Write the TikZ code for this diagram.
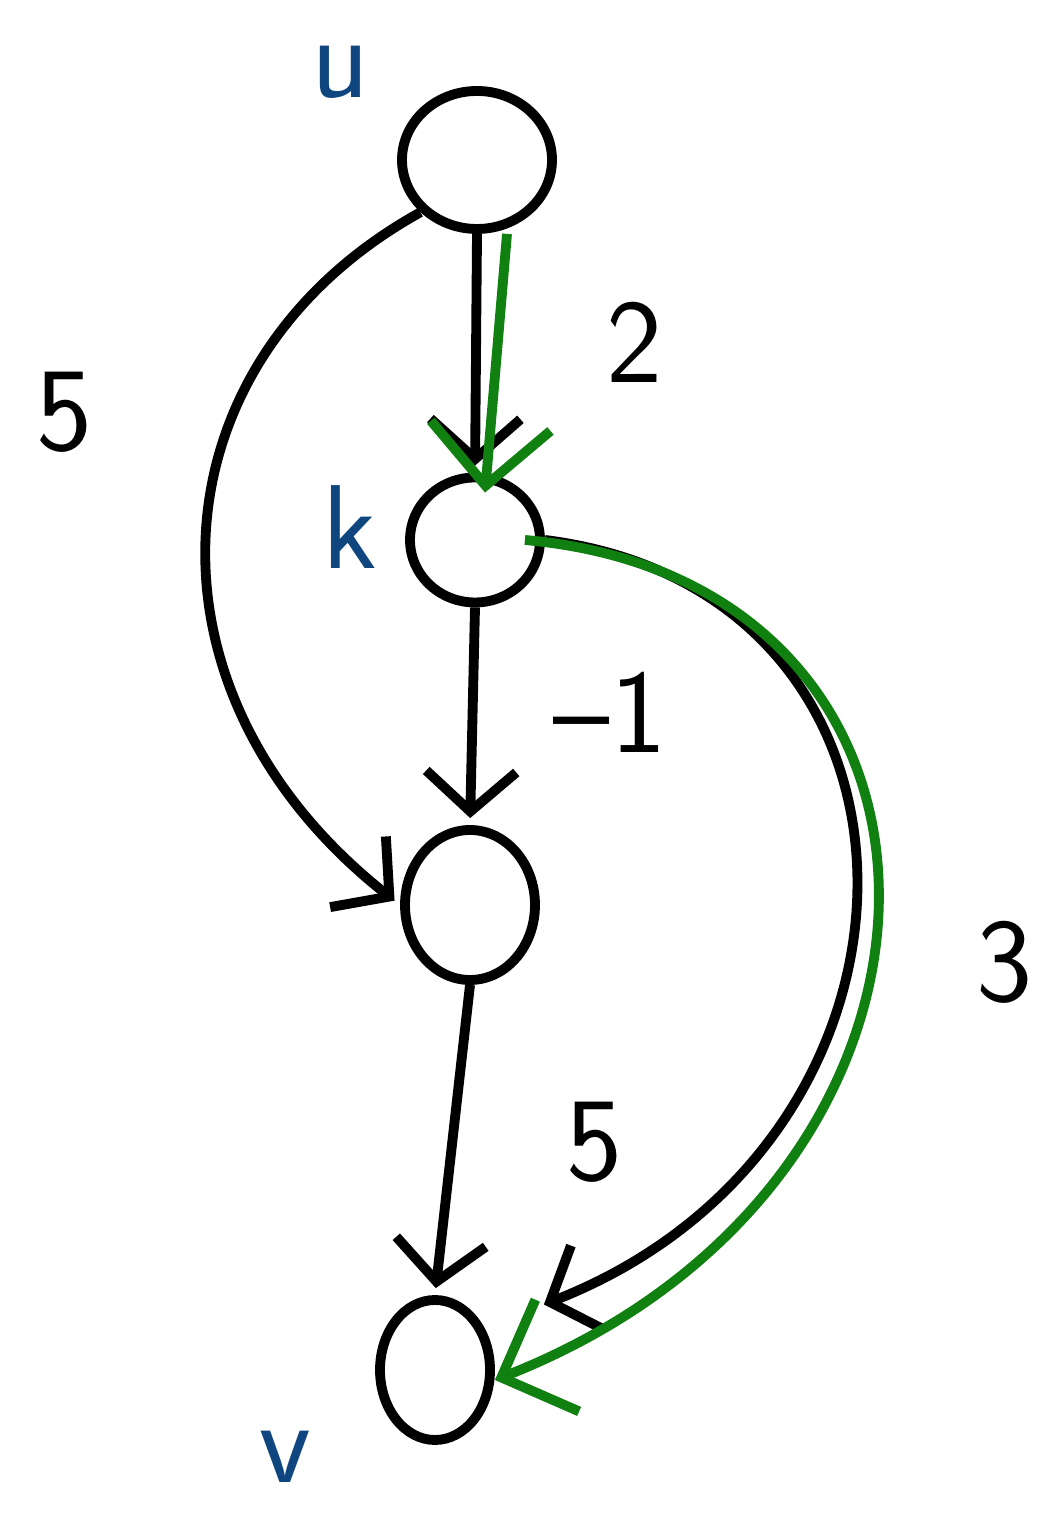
\documentclass[tikz,border=0pt]{standalone}
\usepackage{tikz}
\usetikzlibrary{arrows.meta, shapes.geometric, positioning}
\definecolor{inkblue}{RGB}{16,70,128}
\definecolor{inkgreen}{RGB}{16,128,16}
\tikzset{
  vertex/.style={
    ellipse, draw=black, line width=2.8pt,
    minimum width=1.35cm, minimum height=1.3cm, inner sep=0pt
  },
  link/.style={-{Straight Barb[length=4mm, width=9mm, line width=2.8pt]},
    line width=2.8pt, draw=black, shorten >=2pt},
  greenlink/.style={-{Straight Barb[length=6mm, width=12mm, line width=2.8pt]},
    line width=2.8pt, draw=inkgreen},
  wlabel/.style={font=\fontsize{34}{40}\selectfont\sffamily},
  vname/.style={font=\fontsize{34}{40}\selectfont\sffamily, text=inkblue}
}

\begin{document}
\begin{tikzpicture}
  \useasboundingbox (0,0) rectangle (10.63,15.22);
  % vertices
  \node[vertex, minimum width=1.5cm, minimum height=1.38cm] (u) at (4.77,13.62) {};
  \node[vertex, minimum width=1.3cm, minimum height=1.25cm] (k) at (4.75,9.82) {};
  \node[vertex, minimum width=1.3cm, minimum height=1.5cm] (w) at (4.70,6.17) {};
  \node[vertex, minimum width=1.1cm, minimum height=1.4cm] (v) at (4.35,1.52) {};
  \node[vname] (lu) at (3.4,14.5) {u};
  \node[vname] (lk) at (3.5,9.95) {k};
  \node[vname] (lv) at (2.85,0.65) {v};
  % edges
  \draw[link] (u.south) -- (k.north);
  \draw[link] (k.south) -- (w.north);
  \draw[link] (w.south) -- (v.north);
  \draw[link] (u.south west) .. controls (1.5,11.6) and (1.3,8.3) .. (w.west);
  \draw[link] (k.east) .. controls (9.6,9.3) and (9.6,3.8) .. ([shift={(6mm,1mm)}]v.north east);
  % shortest path
  \draw[greenlink] ([xshift=3mm]u.south) -- ([xshift=1mm,yshift=-2mm]k.north);
  \draw[greenlink] ([xshift=-2mm]k.east) .. controls (10.0,9.4) and (10.0,3.4) .. ([yshift=-1mm]v.east);
  % weights
  \node[wlabel] (w2) at (6.35,11.8) {2};
  \node[wlabel] (w5a) at (0.65,11.1) {5};
  \node[wlabel] (wm1) at (6.1,8.1) {--1};
  \node[wlabel] (w3) at (10.05,5.6) {3};
  \node[wlabel] (w5b) at (5.95,3.8) {5};
\end{tikzpicture}
\end{document}
